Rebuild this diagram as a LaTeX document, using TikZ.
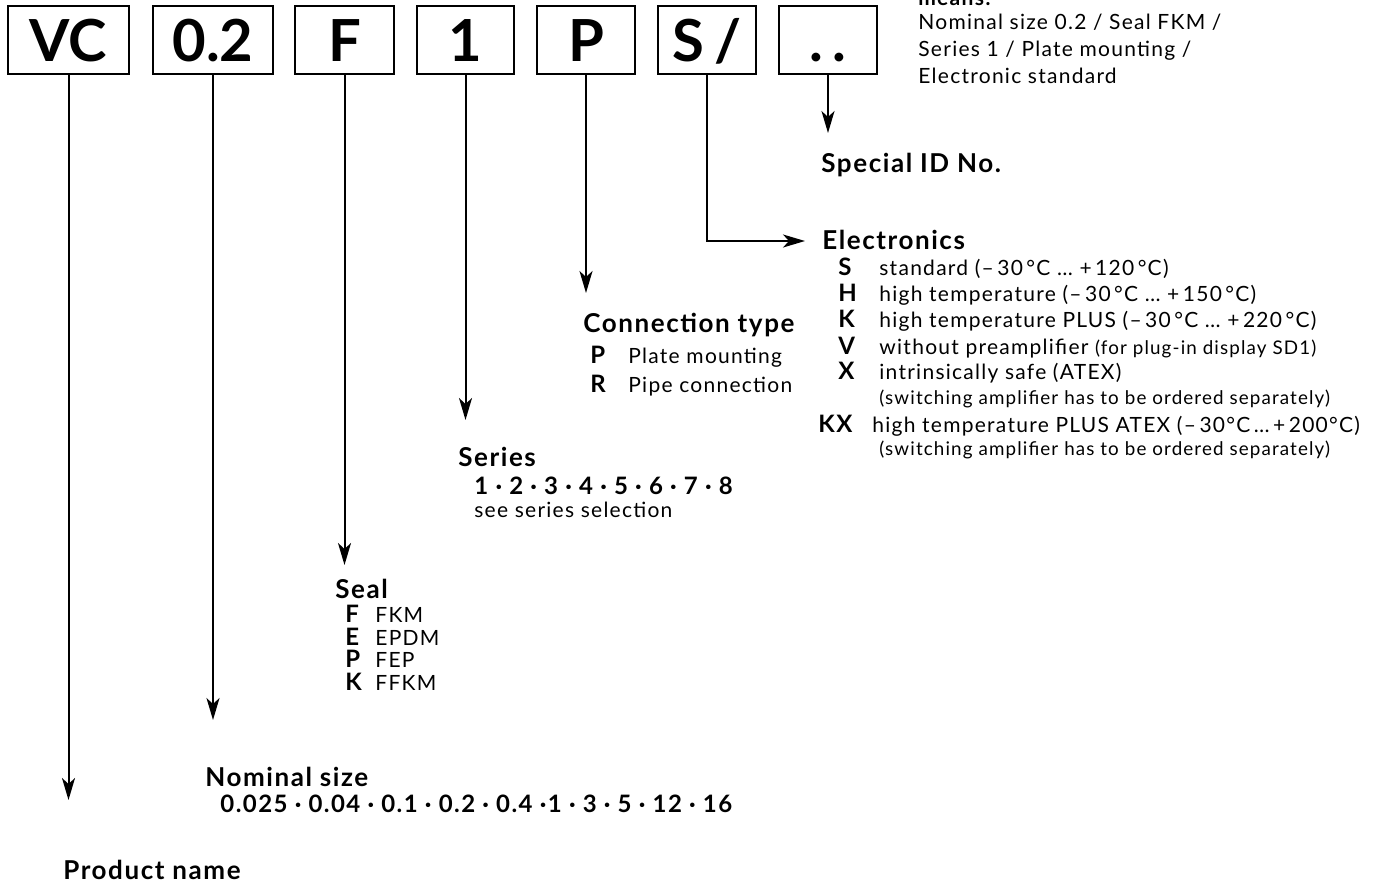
\documentclass[tikz,border=0pt]{standalone}
\usepackage{fontspec}
\setmainfont{Lato}[LetterSpace=6]
\newfontfamily\boxfont{Lato}
\newcommand\msep{\hspace{0.3em}·\hspace{0.3em}}
\usetikzlibrary{arrows.meta}
\begin{document}
\begin{tikzpicture}[x=0.5pt,y=-0.5pt,
  cbox/.style={draw, line width=1pt, minimum height=34pt, inner sep=0pt,
    font=\boxfont\bfseries\fontsize{29}{30}\selectfont, text height=21pt, text depth=0pt},
  conn/.style={line width=1pt, -{Stealth[length=11pt,width=6.5pt,inset=3pt]}},
  head/.style={anchor=base west, inner sep=0pt, font=\bfseries\fontsize{13}{15}\selectfont},
  body/.style={anchor=base west, inner sep=0pt, font=\fontsize{10.5}{12}\selectfont},
  key/.style={anchor=base west, inner sep=0pt, font=\bfseries\fontsize{12}{14}\selectfont},
  vals/.style={anchor=base west, inner sep=0pt, font=\bfseries\fontsize{12}{14}\selectfont},
  small/.style={anchor=base west, inner sep=0pt, font=\fontsize{9.4}{11}\selectfont}]
\useasboundingbox (0,0) rectangle (1392,895);
\clip (0,0) rectangle (1392,895);
% boxes
\node[cbox, minimum width=60.5pt] (bVC) at (68.5,40) {VC};
\node[cbox, minimum width=60pt] (b02) at (213,40) {0.2};
\node[cbox, minimum width=49.5pt] (bF) at (344.5,40) {F};
\node[cbox, minimum width=48.5pt] (b1) at (465.5,40) {1};
\node[cbox, minimum width=49pt] (bP) at (586,40) {P};
\node[cbox, minimum width=49pt] (bS) at (707,40) {S\,/};
\node[cbox, minimum width=49pt] (bD) at (828,40) {.\,.};
% arrow tips
\coordinate (tVC) at (68.5,800);
\coordinate (t02) at (213,720);
\coordinate (tF) at (344.5,565);
\coordinate (t1) at (465.5,420);
\coordinate (tP) at (586,293);
\coordinate (tD) at (828,133);
\coordinate (tS) at (805,241);
\draw[conn] (bVC.south) -- (tVC);
\draw[conn] (b02.south) -- (t02);
\draw[conn] (bF.south) -- (tF);
\draw[conn] (b1.south) -- (t1);
\draw[conn] (bP.south) -- (tP);
\draw[conn] (bD.south) -- (tD);
\draw[conn] (bS.south) |- (tS);
% top right note
\node[body, font=\bfseries\fontsize{10.5}{12}\selectfont] (m0) at (918,5) {means:};
\node[body] (m1) at (918,29) {Nominal size 0.2 / Seal FKM /};
\node[body] (m2) at (918,56) {Series 1 / Plate mounting /};
\node[body] (m3) at (918,83) {Electronic standard};
% product name
\node[head] (hProd) at (63,879) {Product name};
% nominal size
\node[head] (hNom) at (205,786) {Nominal size};
\node[vals] (vNom) at (220,812) {0.025\msep 0.04\msep 0.1\msep 0.2\msep 0.4\hspace{0.3em}·1\msep 3\msep 5\msep 12\msep 16};
% seal
\node[head] (hSeal) at (335,598) {Seal};
\node[key] (kF) at (345,622) {F};   \node[body] (sF) at (375,622) {FKM};
\node[key] (kE) at (345,645) {E};   \node[body] (sE) at (375,645) {EPDM};
\node[key] (kP) at (345,667) {P};   \node[body] (sP) at (375,667) {FEP};
\node[key] (kK) at (345,690) {K};   \node[body] (sK) at (375,690) {FFKM};
% series
\node[head] (hSer) at (458,466) {Series};
\node[vals] (vSer) at (474,494) {1\msep 2\msep 3\msep 4\msep 5\msep 6\msep 7\msep 8};
\node[body] (sSer) at (474,517) {see series selection};
% connection type
\node[head] (hCon) at (583,332) {Connection type};
\node[key] (kCP) at (590,363) {P}; \node[body] (sCP) at (628,363) {Plate mounting};
\node[key] (kCR) at (590,392) {R}; \node[body] (sCR) at (628,392) {Pipe connection};
% special ID
\node[head] (hSpec) at (821,172) {Special ID No.};
% electronics
\node[head] (hEl) at (822,249) {Electronics};
\node[key] (kES) at (838,275) {S}; \node[body] (eS) at (879,275) {standard (–\,30\,°C … +\,120\,°C)};
\node[key] (kEH) at (838,301) {H}; \node[body] (eH) at (879,301) {high temperature (–\,30\,°C … +\,150\,°C)};
\node[key] (kEK) at (838,327) {K}; \node[body] (eK) at (879,327) {high temperature PLUS (–\,30\,°C … +\,220\,°C)};
\node[key] (kEV) at (838,354) {V}; \node[body] (eV) at (879,354) {without preamplifier {\fontsize{9.4}{11}\selectfont(for plug-in display SD1)}};
\node[key] (kEX) at (838,379) {X}; \node[body] (eX) at (879,379) {intrinsically safe (ATEX)};
\node[small] (eX2) at (879,404) {(switching amplifier has to be ordered separately)};
\node[key] (kEKX) at (818,432) {KX}; \node[body] (eKX) at (872,432) {high temperature PLUS ATEX (–\,30°C\,…\,+\,200°C)};
\node[small] (eKX2) at (879,455) {(switching amplifier has to be ordered separately)};
\end{tikzpicture}
\end{document}
